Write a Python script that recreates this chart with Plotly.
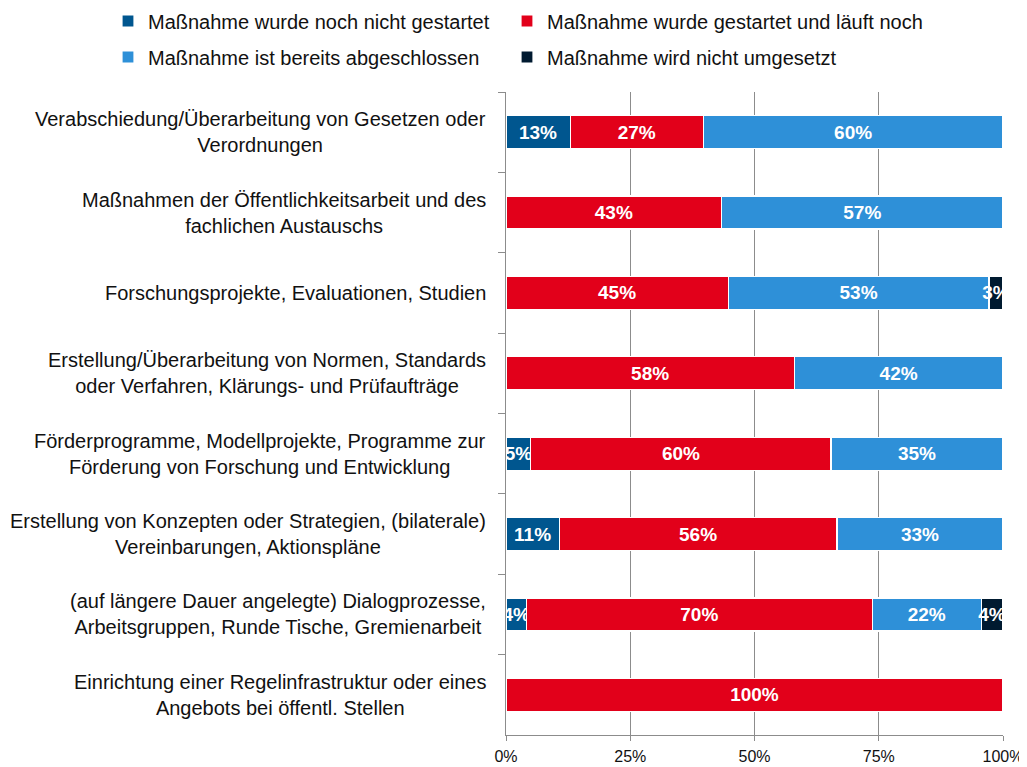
import plotly.graph_objects as go

categories = [
    "Verabschiedung/Überarbeitung von Gesetzen oder<br>Verordnungen",
    "Maßnahmen der Öffentlichkeitsarbeit und des<br>fachlichen Austauschs",
    "Forschungsprojekte, Evaluationen, Studien",
    "Erstellung/Überarbeitung von Normen, Standards<br>oder Verfahren, Klärungs- und Prüfaufträge",
    "Förderprogramme, Modellprojekte, Programme zur<br>Förderung von Forschung und Entwicklung",
    "Erstellung von Konzepten oder Strategien, (bilaterale)<br>Vereinbarungen, Aktionspläne",
    "(auf längere Dauer angelegte) Dialogprozesse,<br>Arbeitsgruppen, Runde Tische, Gremienarbeit",
    "Einrichtung einer Regelinfrastruktur oder eines<br>Angebots bei öffentl. Stellen",
]

series_names = [
    "Maßnahme wurde noch nicht gestartet",
    "Maßnahme wurde gestartet und läuft noch",
    "Maßnahme ist bereits abgeschlossen",
    "Maßnahme wird nicht umgesetzt",
]

not_started = [12.9, None, None, None, 5.0, 10.7, 4.1, None]
running = [26.8, 43.4, 44.7, 58.0, 60.4, 55.9, 69.6, 100.0]
completed = [60.3, 56.6, 52.5, 42.0, 34.6, 33.4, 21.9, None]
not_implemented = [None, None, 2.8, None, None, None, 4.4, None]

series_values = [not_started, running, completed, not_implemented]
colors = ["#00568F", "#E2001A", "#2E90D8", "#001A30"]

x_ticks = [0, 25, 50, 75, 100]
x_ticktext = ["0%", "25%", "50%", "75%", "100%"]

FONT = "Liberation Sans, Arial, sans-serif"
# the page body adds an 8px margin, so the figure is sized to fit the window
W, H = 1019, 759

# legend slots: (left px, centre y px) per series, in figure pixels
legend_ids = ["legend", "legend2", "legend3", "legend4"]
legend_pos = [(100, 13), (499, 13), (100, 49), (499, 49)]

fig = go.Figure()
for name, vals, col, lg in zip(series_names, series_values, colors, legend_ids):
    fig.add_trace(go.Bar(
        y=categories, x=vals, name=name, orientation="h",
        marker=dict(color=col, line=dict(color="white", width=1.2)),
        texttemplate="%{x:.0f}%", textposition="inside",
        insidetextanchor="middle", constraintext="none", textangle=0,
        textfont=dict(family=FONT, size=19, color="white", weight="bold"),
        legend=lg, showlegend=True, hoverinfo="skip",
    ))

for cat in categories:
    fig.add_annotation(
        x=0, xref="paper", y=cat, yref="y", text=cat, showarrow=False,
        xanchor="right", yanchor="middle", align="center", xshift=-18,
        font=dict(family=FONT, size=20, color="#111111"),
    )

legends = {}
for lg, (lx, ly) in zip(legend_ids, legend_pos):
    legends[lg] = dict(
        orientation="h", xref="container", yref="container",
        xanchor="left", yanchor="middle", x=lx / W, y=1 - ly / H,
        itemwidth=30, bgcolor="rgba(0,0,0,0)", borderwidth=0, visible=True,
        font=dict(family=FONT, size=20, color="#111111"),
        itemclick=False, itemdoubleclick=False,
    )

fig.update_layout(
    width=W, height=H, showlegend=True,
    margin=dict(l=498, r=24, t=84, b=32, pad=0, autoexpand=False),
    paper_bgcolor="white", plot_bgcolor="white",
    barmode="stack", bargap=0.59,
    font=dict(family=FONT, size=18, color="#111111"),
    xaxis=dict(
        range=[0, 100], tickvals=x_ticks, ticktext=x_ticktext,
        showgrid=True, gridcolor="#8C8C8C", gridwidth=1, zeroline=False,
        showline=True, linecolor="#8C8C8C", linewidth=1,
        ticks="outside", ticklen=5, tickcolor="#8C8C8C",
        tickfont=dict(family=FONT, size=16, color="#111111"),
        ticklabelstandoff=2, fixedrange=True, automargin=False,
    ),
    yaxis=dict(
        type="category", categoryorder="array", categoryarray=categories,
        autorange="reversed", showticklabels=False, showgrid=False,
        showline=True, linecolor="#8C8C8C", linewidth=1,
        ticks="outside", tickson="boundaries", ticklen=7, tickcolor="#8C8C8C",
        zeroline=False, fixedrange=True, automargin=False,
    ),
    **legends,
)

fig.write_html("out.html")
